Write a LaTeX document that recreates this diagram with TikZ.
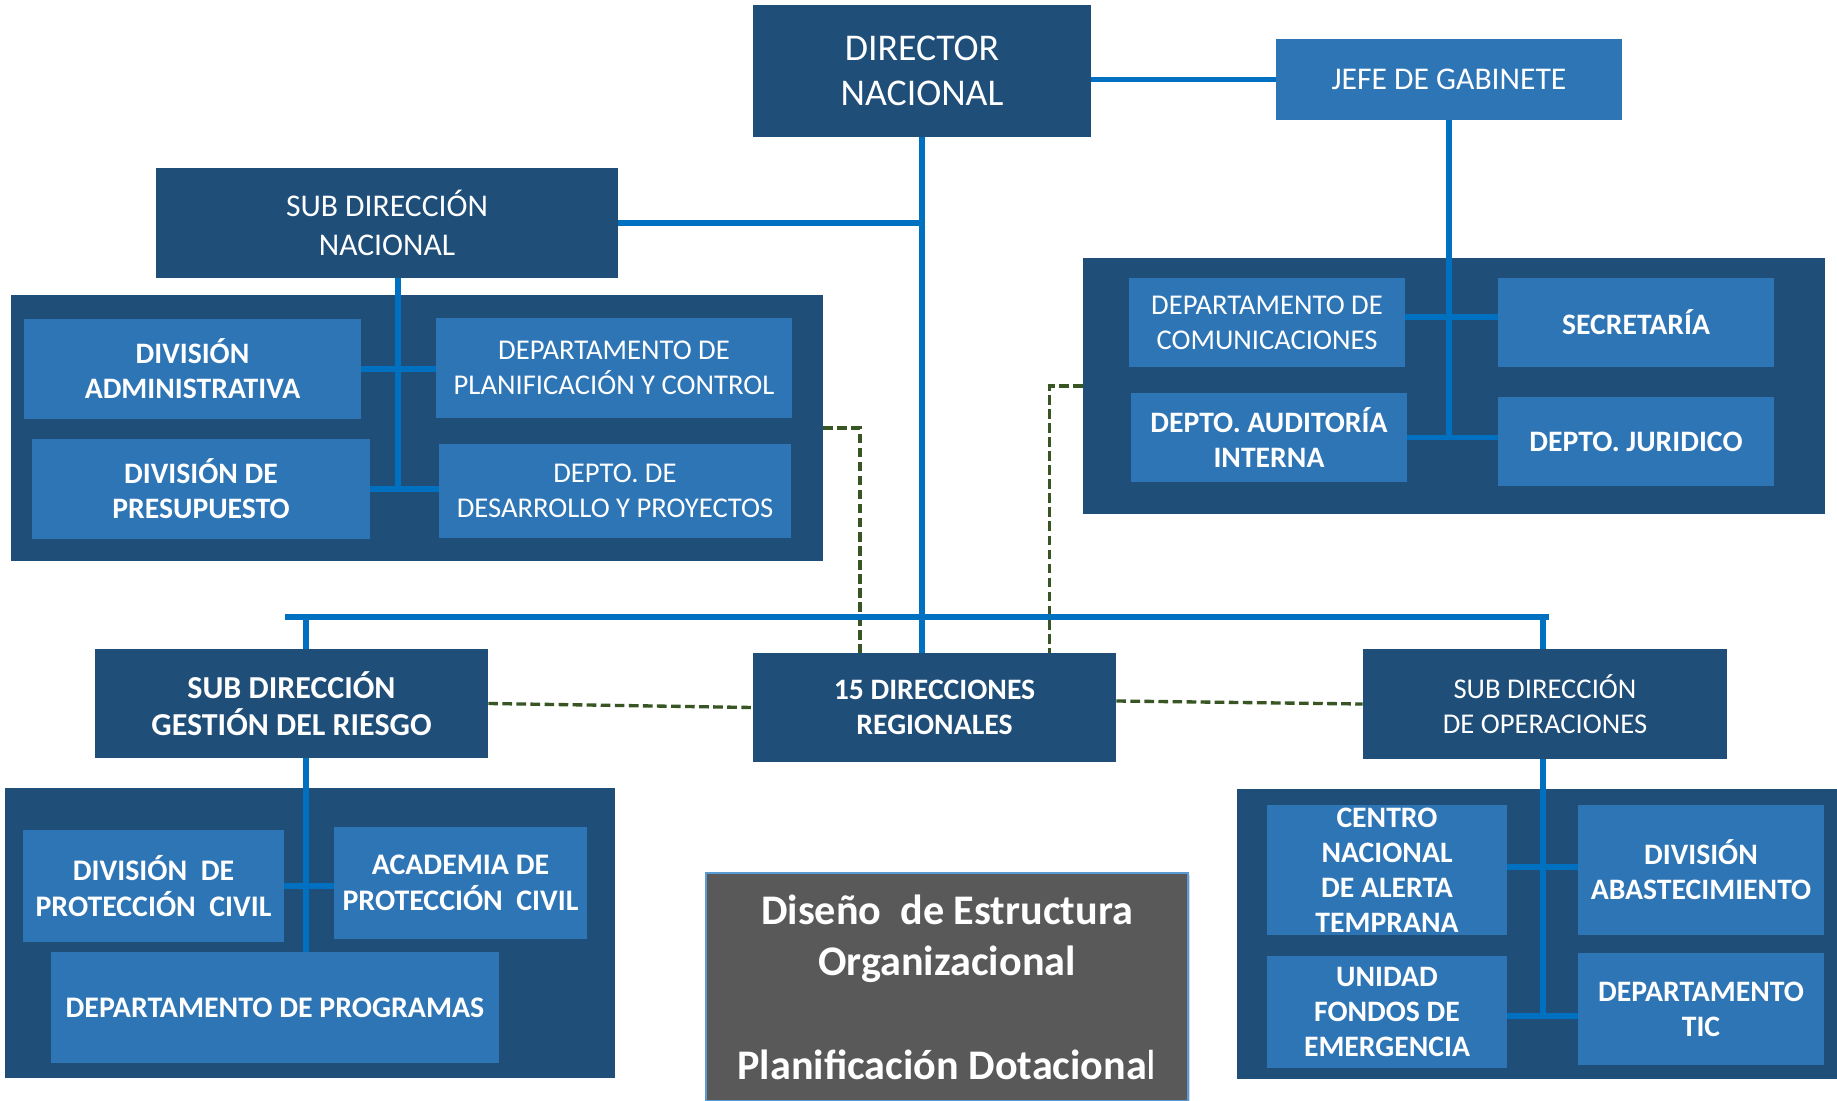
\documentclass[tikz,border=0pt]{standalone}
\usepackage{fontspec}
\setmainfont{Carlito}
\usetikzlibrary{positioning}
\usetikzlibrary{fit}
\usetikzlibrary{shadows}
\definecolor{azuloscuro}{HTML}{1F4E79}
\definecolor{azulclaro}{HTML}{2E75B6}
\definecolor{azullinea}{HTML}{0070C0}
\definecolor{verdeenlace}{HTML}{375623}
\definecolor{grisfondo}{HTML}{595959}
\definecolor{bordetitulo}{HTML}{5B9BD5}
\newcommand{\tamDir}{\fontsize{21.5}{25.5}\selectfont}
\newcommand{\tamSub}{\fontsize{18}{22}\selectfont}
\newcommand{\tamUni}{\fontsize{16.3}{20}\selectfont}
\newcommand{\tamNeg}{\fontsize{16.9}{20}\selectfont\bfseries}
\newcommand{\tamRie}{\fontsize{17}{20.5}\selectfont\bfseries}
\newcommand{\tamTit}{\fontsize{24}{29.4}\selectfont\bfseries}
\tikzset{
	jefatura/.style={fill=azuloscuro, text=white, inner sep=0pt, align=center},
	unidad/.style={fill=azulclaro, text=white, inner sep=0pt, align=center, font=\tamUni},
	bloque/.style={fill=azuloscuro, inner sep=0pt},
	enlace/.style={draw=azullinea, line width=3.1pt},
	vinculo/.style={draw=verdeenlace, line width=1.9pt, dash pattern=on 5.5pt off 2.5pt}
}

\begin{document}
\begin{tikzpicture}[x=0.02cm, y=-0.02cm]
		\useasboundingbox (0,0) rectangle (1837,1101);
		% contenedores
		\node[bloque, fit={(11,295) (823,561)}] (panelnac) {};
		\node[bloque, fit={(1083,258) (1825,514)}] (panelgab) {};
		\node[bloque, fit={(5,788) (615,1078)}] (panelries) {};
		\node[bloque, fit={(1237,789) (1837,1079)}] (panelop) {};
		% jefaturas
		\node[jefatura, font=\tamDir, minimum width=6.76cm, minimum height=2.64cm] (director) at (922,71) {DIRECTOR\\NACIONAL};
		\node[unidad, font=\tamSub, minimum width=6.92cm, minimum height=1.62cm] (jefe) at (1449,79.5) {JEFE DE GABINETE};
		\node[jefatura, font=\tamSub, minimum width=9.24cm, minimum height=2.2cm] (subnac) at (387,223) {SUB DIRECCIÓN\\NACIONAL};
		\node[jefatura, font=\fontsize{18.2}{21.2}\selectfont\bfseries, minimum width=7.86cm, minimum height=2.18cm] (gestion) at (291.5,703.5) {SUB DIRECCIÓN\\GESTIÓN DEL RIESGO};
		\node[jefatura, font=\tamNeg, minimum width=7.26cm, minimum height=2.18cm] (dir15) at (934.5,707.5) {15 DIRECCIONES\\REGIONALES};
		\node[jefatura, font=\tamUni, minimum width=7.28cm, minimum height=2.2cm] (operac) at (1545,704) {SUB DIRECCIÓN\\DE OPERACIONES};
		% sub direccion nacional
		\node[unidad, font=\tamNeg, minimum width=6.74cm, minimum height=2cm] (divadm) at (192.5,369) {DIVISIÓN\\ADMINISTRATIVA};
		\node[unidad, minimum width=7.12cm, minimum height=2cm] (deplan) at (614,368) {DEPARTAMENTO DE\\PLANIFICACIÓN Y CONTROL};
		\node[unidad, font=\tamNeg, minimum width=6.76cm, minimum height=2cm] (divpres) at (201,489) {DIVISIÓN DE\\PRESUPUESTO};
		\node[unidad, minimum width=7.04cm, minimum height=1.88cm] (depdes) at (615,491) {DEPTO. DE\\DESARROLLO Y PROYECTOS};
		% gabinete
		\node[unidad, minimum width=5.52cm, minimum height=1.78cm] (depcom) at (1267,322.5) {DEPARTAMENTO DE\\COMUNICACIONES};
		\node[unidad, font=\tamNeg, minimum width=5.52cm, minimum height=1.78cm] (secret) at (1636,322.5) {SECRETARÍA};
		\node[unidad, font=\tamNeg, minimum width=5.52cm, minimum height=1.78cm] (audit) at (1269,437.5) {DEPTO. AUDITORÍA\\INTERNA};
		\node[unidad, font=\tamNeg, minimum width=5.52cm, minimum height=1.78cm] (juridico) at (1636,441.5) {DEPTO. JURIDICO};
		% gestion del riesgo
		\node[unidad, font=\tamRie, minimum width=5.22cm, minimum height=2.24cm] (divprot) at (153.5,886) {DIVISIÓN~ DE\\PROTECCIÓN~ CIVIL};
		\node[unidad, font=\tamRie, minimum width=5.06cm, minimum height=2.24cm] (academia) at (460.5,883) {ACADEMIA DE\\PROTECCIÓN~ CIVIL};
		\node[unidad, font=\tamRie, minimum width=8.96cm, minimum height=2.22cm] (depprog) at (275,1007.5) {DEPARTAMENTO DE PROGRAMAS};
		% operaciones
		\node[unidad, font=\tamNeg, minimum width=4.8cm, minimum height=2.6cm] (centro) at (1387,870) {CENTRO\\NACIONAL\\DE ALERTA\\TEMPRANA};
		\node[unidad, font=\tamNeg, minimum width=4.92cm, minimum height=2.6cm] (abast) at (1701,870) {DIVISIÓN\\ABASTECIMIENTO};
		\node[unidad, font=\tamNeg, minimum width=4.8cm, minimum height=2.24cm] (fondos) at (1387,1012) {UNIDAD\\FONDOS DE\\EMERGENCIA};
		\node[unidad, font=\tamNeg, minimum width=4.92cm, minimum height=2.24cm] (tic) at (1701,1009) {DEPARTAMENTO\\TIC};
		% titulo
		\node[fill=grisfondo, draw=bordetitulo, line width=1.2pt, drop shadow={shadow xshift=1.2pt, shadow yshift=-1.2pt, opacity=0.3}, text=white, align=center, inner sep=0pt, font=\tamTit, minimum width=9.64cm, minimum height=4.56cm] (titulo) at (947,987) {Diseño~ de Estructura\\Organizacional\\[29.4pt]Planificación Dotaciona\textmd{l}};
		% ejes
		\coordinate (ejenac) at (398,490);
		\coordinate (ejegab) at (1449,437);
		\coordinate (ejeries) at (306,952);
		\coordinate (ejeop) at (1543,1016);
		\coordinate (busizq) at (285,617);
		\coordinate (busder) at (1549,617);
		% enlaces punteados
		\draw[vinculo] (panelnac.east) -| ([xshift=-1.49cm]dir15.north);
		\draw[vinculo] (panelgab.west) -| ([xshift=2.3cm]dir15.north);
		\draw[vinculo] (gestion.east) -- (dir15.west);
		\draw[vinculo] ([yshift=0.13cm]dir15.east) -- (operac.west);
		% enlaces
		\draw[enlace] (director.east |- jefe.west) -- (jefe.west);
		\draw[enlace] (director.south) -- (director.south |- dir15.north);
		\draw[enlace] (subnac.east) -- (director.south |- subnac.east);
		\draw[enlace, line width=3.4pt] (busizq) -- (busder);
		\draw[enlace] (subnac.south -| ejenac) -- (ejenac);
		\draw[enlace] (divadm.east) -- (divadm.east -| deplan.west);
		\draw[enlace] (divpres.east) -- (divpres.east -| depdes.west);
		\draw[enlace] (jefe.south -| ejegab) -- (ejegab);
		\draw[enlace] ([yshift=0.11cm]depcom.east) -- ([yshift=0.11cm]secret.west);
		\draw[enlace] (audit.east) -- (audit.east -| juridico.west);
		\draw[enlace] (ejeries |- busizq) -- (ejeries |- gestion.north);
		\draw[enlace] (ejeries |- gestion.south) -- (ejeries);
		\draw[enlace] (divprot.east) -- (divprot.east -| academia.west);
		\draw[enlace] (ejeop |- busder) -- (ejeop |- operac.north);
		\draw[enlace] (ejeop |- operac.south) -- (ejeop);
		\draw[enlace] ([yshift=0.06cm]centro.east) -- ([yshift=0.06cm]abast.west);
		\draw[enlace] ([yshift=-0.08cm]fondos.east) -- ([yshift=-0.08cm]fondos.east -| tic.west);
	\end{tikzpicture}
\end{document}
